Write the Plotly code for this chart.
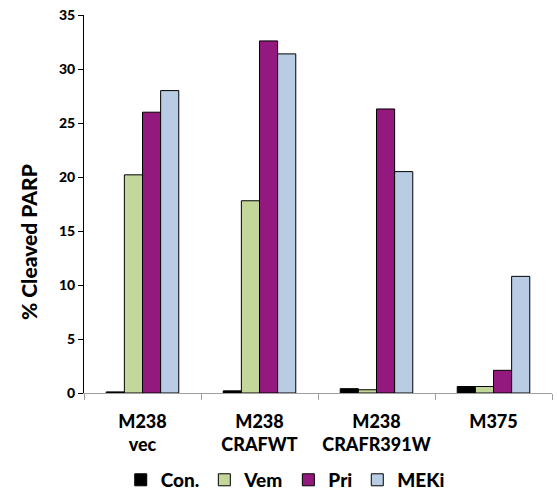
import plotly.graph_objects as go

categories = ["M238<br>vec", "M238<br>CRAFWT", "M238<br>CRAFR391W", "M375"]
series_names = ["Con.", "Vem", "Pri", "MEKi"]
con = [0.1, 0.2, 0.4, 0.6]
vem = [20.2, 17.8, 0.3, 0.6]
pri = [26.0, 32.6, 26.3, 2.1]
meki = [28.0, 31.4, 20.5, 10.8]
y_ticks = [0, 5, 10, 15, 20, 25, 30, 35]

colors = ["#000000", "#C4D79B", "#93197F", "#B8CCE4"]
values = [con, vem, pri, meki]

font = "Lato, 'Liberation Sans', Arial, sans-serif"
W = 900

fig = go.Figure()
for name, vals, col in zip(series_names, values, colors):
    fig.add_trace(go.Bar(
        x=categories, y=vals, name=name,
        marker=dict(color=col, line=dict(color="#000000", width=1)),
    ))

fig.update_layout(
    width=557, height=491,
    margin=dict(l=84, r=5, t=15, b=98, autoexpand=False),
    paper_bgcolor="white", plot_bgcolor="white",
    barmode="group", bargap=0.38, bargroupgap=0,
    font=dict(family=font, color="#000000"),
    showlegend=True,
    legend=dict(
        orientation="h", x=0.43, xanchor="center", y=-0.23, yanchor="middle",
        font=dict(size=19, family=font, weight=W),
        traceorder="normal",
    ),
    xaxis=dict(
        showline=True, linecolor="#A0A0A0", linewidth=1,
        ticks="outside", tickson="boundaries", tickcolor="#A0A0A0", ticklen=6,
        tickfont=dict(size=18, family=font, weight=W),
        tickangle=0, ticklabelstandoff=12,
        showgrid=False, automargin=False,
    ),
    yaxis=dict(
        range=[0, 35], tickvals=y_ticks,
        showline=True, linecolor="#000000", linewidth=1,
        ticks="outside", tickcolor="#000000", ticklen=5,
        tickfont=dict(size=14, family=font, weight=W),
        showgrid=False, zeroline=False, automargin=False,
    ),
    annotations=[dict(
        text="% Cleaved PARP", textangle=-90,
        xref="paper", yref="paper", x=-0.119, y=0.40,
        xanchor="center", yanchor="middle", showarrow=False,
        font=dict(size=21, family=font, weight=W),
    )],
)

fig.write_html(
    "out.html",
    config={"displayModeBar": False},
    post_script="document.body.style.margin='0';document.body.style.overflow='hidden';",
)
